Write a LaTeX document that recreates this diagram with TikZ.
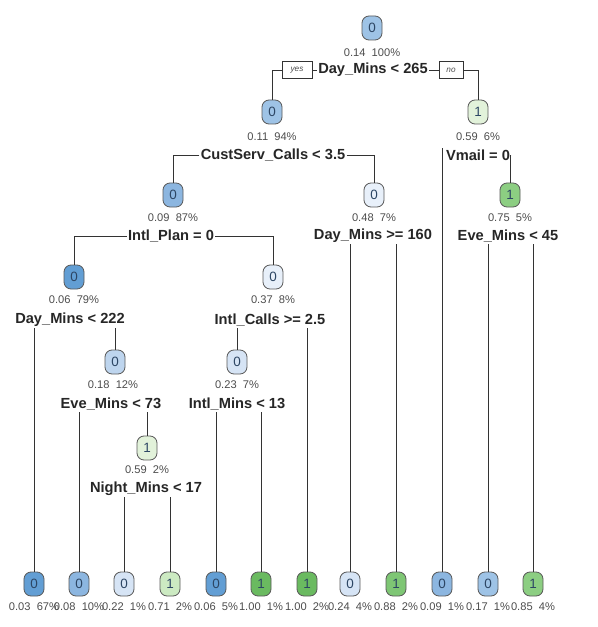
\documentclass[tikz,border=0pt]{standalone}
\usepackage{fontspec}
\setmainfont{Liberation Sans}

\definecolor{blueA}{RGB}{98,158,212}
\definecolor{blueB}{RGB}{140,182,224}
\definecolor{blueC}{RGB}{158,195,230}
\definecolor{blueD}{RGB}{190,213,238}
\definecolor{blueE}{RGB}{214,228,245}
\definecolor{blueF}{RGB}{232,240,250}
\definecolor{greenA}{RGB}{226,242,218}
\definecolor{greenB}{RGB}{204,234,194}
\definecolor{greenC}{RGB}{140,206,130}
\definecolor{greenD}{RGB}{126,198,116}
\definecolor{greenE}{RGB}{106,186,96}
\definecolor{nodetext}{RGB}{45,70,100}

\begin{document}
\begin{tikzpicture}[x=0.03cm, y=-0.03cm,
  tnode/.style={draw=black!65, line width=0.7pt, rounded corners=6pt,
    minimum width=0.6cm, minimum height=0.72cm, inner sep=0pt,
    font=\fontsize{11.5}{12}\selectfont, text=nodetext},
  info/.style={inner sep=0pt, font=\fontsize{9.5}{10}\selectfont, text=black!70},
  split/.style={inner sep=1pt, font=\bfseries\fontsize{12.5}{13}\selectfont, text=black!85},
  ynbox/.style={draw=black!80, line width=0.5pt, inner sep=1pt,
    minimum height=0.5cm, font=\itshape\fontsize{7}{7}\selectfont, text=black!70},
  branch/.style={draw=black!80, line width=0.6pt}]
  \useasboundingbox (0,0) rectangle (597,627);

  % Root
  \node[tnode, fill=blueC] (n1) at (372,28) {0};
  \node[info] (p1) at (372,53) {0.14\ \ 100\%};
  \node[split] (s1) at (373,70) {Day\_Mins < 265};
  \node[ynbox, minimum width=0.9cm] (yes) at (297,70) {yes};
  \node[ynbox, minimum width=0.72cm] (no) at (451,70) {no};

  % Level 1
  \node[tnode, fill=blueC] (n2) at (272,112) {0};
  \node[info] (p2) at (272,137) {0.11\ \ 94\%};
  \node[split] (s2) at (273,155) {CustServ\_Calls < 3.5};
  \node[tnode, fill=greenA] (n3) at (478,112) {1};
  \node[info] (p3) at (478,137) {0.59\ \ 6\%};
  \node[split] (s3) at (478,155) {Vmail = 0};

  % Level 2
  \node[tnode, fill=blueB] (n4) at (173,195) {0};
  \node[info] (p4) at (173,218) {0.09\ \ 87\%};
  \node[split] (s4) at (171,236) {Intl\_Plan = 0};
  \node[tnode, fill=blueF] (n5) at (374,195) {0};
  \node[info] (p5) at (374,218) {0.48\ \ 7\%};
  \node[split] (s5) at (373,236) {Day\_Mins >= 160};
  \node[tnode, fill=greenC] (n6) at (510,195) {1};
  \node[info] (p6) at (510,218) {0.75\ \ 5\%};
  \node[split] (s6) at (508,236) {Eve\_Mins < 45};

  % Level 3
  \node[tnode, fill=blueA] (n7) at (74,277) {0};
  \node[info] (p7) at (74,300) {0.06\ \ 79\%};
  \node[split] (s7) at (70,320) {Day\_Mins < 222};
  \node[tnode, fill=blueF] (n8) at (273,277) {0};
  \node[info] (p8) at (273,300) {0.37\ \ 8\%};
  \node[split] (s8) at (270,320) {Intl\_Calls >= 2.5};

  % Level 4
  \node[tnode, fill=blueD] (n9) at (115,362) {0};
  \node[info] (p9) at (113,385) {0.18\ \ 12\%};
  \node[split] (s9) at (111,404) {Eve\_Mins < 73};
  \node[tnode, fill=blueE] (n10) at (237,362) {0};
  \node[info] (p10) at (237,385) {0.23\ \ 7\%};
  \node[split] (s10) at (237,404) {Intl\_Mins < 13};

  % Level 5
  \node[tnode, fill=greenA] (n11) at (147,448) {1};
  \node[info] (p11) at (147,470) {0.59\ \ 2\%};
  \node[split] (s11) at (146,489) {Night\_Mins < 17};

  % Leaves
  \node[tnode, fill=blueA] (l1) at (34,584) {0};
  \node[tnode, fill=blueB] (l2) at (79,584) {0};
  \node[tnode, fill=blueE] (l3) at (124,584) {0};
  \node[tnode, fill=greenB] (l4) at (170,584) {1};
  \node[tnode, fill=blueA] (l5) at (216,584) {0};
  \node[tnode, fill=greenE] (l6) at (261,584) {1};
  \node[tnode, fill=greenE] (l7) at (307,584) {1};
  \node[tnode, fill=blueE] (l8) at (350,584) {0};
  \node[tnode, fill=greenD] (l9) at (396,584) {1};
  \node[tnode, fill=blueB] (l10) at (442,584) {0};
  \node[tnode, fill=blueC] (l11) at (488,584) {0};
  \node[tnode, fill=greenC] (l12) at (533,584) {1};
  \node[info] (q1) at (34,607) {0.03\ \ 67\%};
  \node[info] (q2) at (79,607) {0.08\ \ 10\%};
  \node[info] (q3) at (124,607) {0.22\ \ 1\%};
  \node[info] (q4) at (170,607) {0.71\ \ 2\%};
  \node[info] (q5) at (216,607) {0.06\ \ 5\%};
  \node[info] (q6) at (261,607) {1.00\ \ 1\%};
  \node[info] (q7) at (307,607) {1.00\ \ 2\%};
  \node[info] (q8) at (350,607) {0.24\ \ 4\%};
  \node[info] (q9) at (396,607) {0.88\ \ 2\%};
  \node[info] (q10) at (442,607) {0.09\ \ 1\%};
  \node[info] (q11) at (488,607) {0.17\ \ 1\%};
  \node[info] (q12) at (533,607) {0.85\ \ 4\%};

  % Connections
  \draw[branch] (yes.east) -- (s1.west);
  \draw[branch] (s1.east) -- (no.west);
  \draw[branch] (yes.west) -| (n2.north);
  \draw[branch] (no.east) -| (n3.north);
  \draw[branch] (s2.west) -| (n4.north);
  \draw[branch] (s2.east) -| (n5.north);
  \draw[branch] (l10.north) -- (l10.north |- s3.north);
  \draw[branch] (s3.east) -| (n6.north);
  \draw[branch] (s4.west) -| (n7.north);
  \draw[branch] (s4.east) -| (n8.north);
  \draw[branch] (l8.north) -- (l8.north |- s5.south);
  \draw[branch] (l9.north) -- (l9.north |- s5.south);
  \draw[branch] (l11.north) -- (l11.north |- s6.south);
  \draw[branch] (l12.north) -- (l12.north |- s6.south);
  \draw[branch] (l1.north) -- (l1.north |- s7.south);
  \draw[branch] (n9.north) -- (n9.north |- s7.south);
  \draw[branch] (n10.north) -- (n10.north |- s8.south);
  \draw[branch] (l7.north) -- (l7.north |- s8.south);
  \draw[branch] (l2.north) -- (l2.north |- s9.south);
  \draw[branch] (n11.north) -- (n11.north |- s9.south);
  \draw[branch] (l5.north) -- (l5.north |- s10.south);
  \draw[branch] (l6.north) -- (l6.north |- s10.south);
  \draw[branch] (l3.north) -- (l3.north |- s11.south);
  \draw[branch] (l4.north) -- (l4.north |- s11.south);
\end{tikzpicture}
\end{document}
